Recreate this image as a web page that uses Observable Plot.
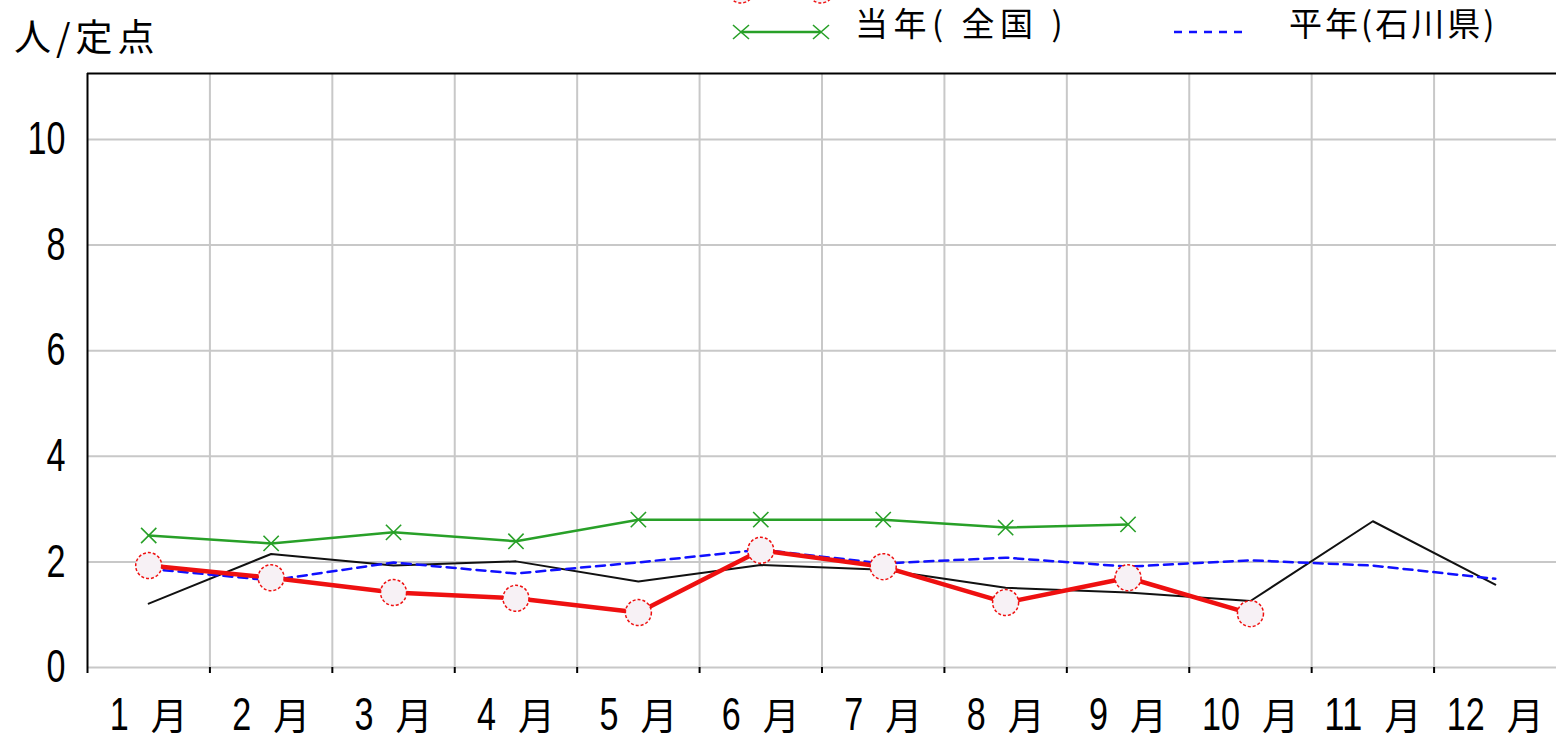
<!DOCTYPE html>
<html><head><meta charset="utf-8">
<script src="https://cdn.jsdelivr.net/npm/d3@7"></script>
<script src="https://cdn.jsdelivr.net/npm/@observablehq/plot@0.6"></script>
<style>
body{margin:0;background:#fff;font-family:"Noto Sans CJK JP",sans-serif;}
#wrap{position:relative;width:1556px;height:735px;overflow:hidden;background:#fff}
.lab{position:absolute;line-height:1;color:#000;white-space:pre}
.sw{position:absolute;overflow:visible}
</style></head><body><div id="wrap"></div>
<script>
const months = [1,2,3,4,5,6,7,8,9,10,11,12];
const monthLabels = ["1 月","2 月","3 月","4 月","5 月","6 月","7 月","8 月","9 月","10 月","11 月","12 月"];
const thisYearIshikawa = [1.93,1.70,1.42,1.31,1.04,2.22,1.91,1.23,1.70,1.02];
const thisYearNational = [2.50,2.35,2.56,2.39,2.80,2.80,2.80,2.65,2.71];
const lastYearIshikawa = [1.21,2.15,1.93,2.01,1.63,1.94,1.85,1.51,1.42,1.26,2.77,1.57];
const normalIshikawa = [1.87,1.65,1.99,1.78,1.99,2.23,1.97,2.08,1.91,2.03,1.93,1.68];
const yTicks = [0,2,4,6,8,10];
const bandEdges = [1.5,2.5,3.5,4.5,5.5,6.5,7.5,8.5,9.5,10.5,11.5];
const legendItems = ["当年(石川県)","前年(石川県)","当年( 全国 )","平年(石川県)"];
const yUnit = "人/定点";

const toRows = arr => arr.map((v,i)=>({m:months[i], v}));
const red = toRows(thisYearIshikawa), green = toRows(thisYearNational),
      black = toRows(lastYearIshikawa), blue = toRows(normalIshikawa);

const cjk = '"Noto Sans CJK JP", sans-serif';
const latin = '"Liberation Sans", Arial, sans-serif';
const digitW = 19;
const chart = Plot.plot({
  width:1556, height:735,
  marginLeft:87, marginRight:0, marginTop:73, marginBottom:68,
  x:{domain:[0.5,12.5], axis:null, label:null},
  y:{domain:[0,11.25], axis:null, label:null},
  style:{fontFamily:cjk, background:"white", overflow:"visible", color:"#000"},
  marks:[
    Plot.ruleY(yTicks,{stroke:"#c8c8c8",strokeWidth:2, strokeOpacity:1}),
    Plot.ruleX(bandEdges,{stroke:"#c8c8c8",strokeWidth:2, strokeOpacity:1}),
    Plot.axisX({ticks:[0.5,...bandEdges], tickSize:6, tickFormat:()=>"", stroke:"#000", strokeWidth:2, label:null}),
    Plot.axisX({ticks:months, tickSize:0, tickPadding:30, tickFormat:d=>monthLabels[d-1], fontSize:46, fill:"#000", label:null}),
    Plot.axisY({ticks:yTicks, tickSize:0, tickPadding:22, fontSize:46, fontFamily:latin, fill:"#000", label:null}),
    Plot.ruleX([0.5],{stroke:"#000",strokeWidth:2}),
    Plot.ruleY([11.25],{stroke:"#000",strokeWidth:2}),
    Plot.line(black,{x:"m",y:"v",stroke:"#111",strokeWidth:2}),
    Plot.line(blue,{x:"m",y:"v",stroke:"#1010ff",strokeWidth:2.5,strokeDasharray:"9,6"}),
    Plot.line(green,{x:"m",y:"v",stroke:"#28a028",strokeWidth:2.5}),
    Plot.dot(green,{x:"m",y:"v",symbol:"times",r:7,stroke:"#28a028",strokeWidth:1.6}),
    Plot.line(red,{x:"m",y:"v",stroke:"#ee1010",strokeWidth:4.5}),
    Plot.dot(red,{x:"m",y:"v",r:13,fill:"#f7f1f5",stroke:"#ee1010",strokeWidth:1.5,strokeDasharray:"3,2"})
  ]
});
// month labels: narrow tall digits + CJK glyph
d3.select(chart).selectAll('g[aria-label="x-axis tick label"] text').each(function(){
  const t = this.textContent; const m = t && t.match(/^(\d+)\s*(\S+)$/);
  if(!m) return;
  const sel = d3.select(this); sel.text(null);
  sel.append("tspan").attr("font-family",latin).attr("font-size",46)
     .attr("textLength",m[1].length*digitW).attr("lengthAdjust","spacingAndGlyphs").text(m[1]);
  sel.append("tspan").attr("font-family",cjk).attr("font-size",37).attr("dx",22).text(m[2]);
});
// y tick labels: narrow tall digits
d3.select(chart).selectAll('g[aria-label="y-axis tick label"] text').each(function(){
  const t = this.textContent;
  d3.select(this).attr("textLength",t.length*digitW).attr("lengthAdjust","spacingAndGlyphs");
});
const wrap = document.getElementById("wrap");
wrap.appendChild(chart);
chart.style.position="absolute"; chart.style.left="0"; chart.style.top="0";

function addLabel(text,left,top,size,ls){
  const d=document.createElement("div"); d.className="lab"; d.textContent=text;
  d.style.left=left+"px"; d.style.top=top+"px"; d.style.fontSize=size+"px"; d.style.letterSpacing=ls+"px";
  wrap.appendChild(d); return d;
}
addLabel(yUnit,14,17,37,5);
addLabel(legendItems[2],855,6,33,5.5);
addLabel(legendItems[3],1289,6,33,3);
const ns="http://www.w3.org/2000/svg";
function swatch(left,top,inner){
  const s=document.createElementNS(ns,"svg"); s.setAttribute("width",110); s.setAttribute("height",60);
  s.setAttribute("class","sw"); s.style.left=left+"px"; s.style.top=top+"px"; s.innerHTML=inner; wrap.appendChild(s);
}
// red legend row sits above the visible area (only its markers' bottoms show)
swatch(720,-40,'<line x1="21" y1="30" x2="101" y2="30" stroke="#ee1010" stroke-width="4.5"/>'+
  '<circle cx="21" cy="30" r="13" fill="#f7f1f5" stroke="#ee1010" stroke-width="1.5" stroke-dasharray="3,2"/>'+
  '<circle cx="101" cy="30" r="13" fill="#f7f1f5" stroke="#ee1010" stroke-width="1.5" stroke-dasharray="3,2"/>');
swatch(720,2,'<line x1="21" y1="30" x2="101" y2="30" stroke="#28a028" stroke-width="2.5"/>'+
  '<path d="M13 23L29 37M29 23L13 37M93 23L109 37M109 23L93 37" stroke="#28a028" stroke-width="1.6"/>');
swatch(1170,2,'<line x1="4" y1="30" x2="76" y2="30" stroke="#1010ff" stroke-width="2.5" stroke-dasharray="8,7"/>');
</script></body></html>
